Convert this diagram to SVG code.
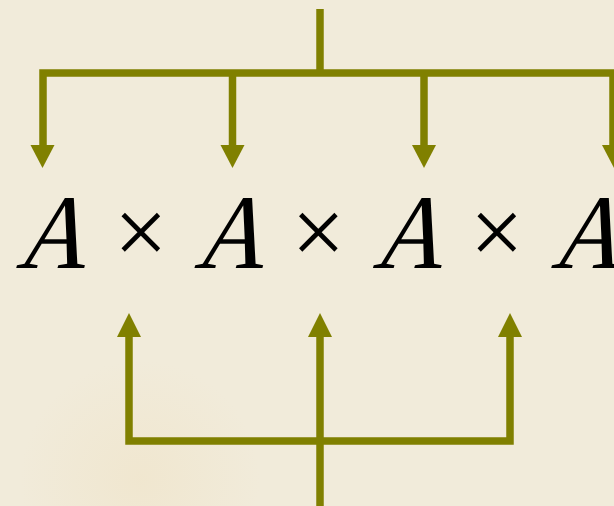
<svg xmlns="http://www.w3.org/2000/svg" xmlns:xlink="http://www.w3.org/1999/xlink" width="614" height="506" viewBox="0 0 614 506">
  <defs>
    <style>
      .ln { fill: none; stroke: #808000; stroke-width: 7.5; stroke-linecap: butt; stroke-linejoin: miter; }
      .hd { fill: #808000; }
      .a { font-family: 'Liberation Serif', serif; font-size: 106px; fill: #000; }
      .x { font-family: 'Liberation Serif', serif; font-size: 95px; fill: #000; text-anchor: middle; }
    </style>
    <polygon id="down" points="-12,0 12,0 0,23"/>
    <polygon id="up" points="-12,0 12,0 0,-24"/>
    <radialGradient id="warm" cx="140" cy="480" r="120" gradientUnits="userSpaceOnUse">
      <stop offset="0" stop-color="#eedcb6" stop-opacity="0.3"/>
      <stop offset="1" stop-color="#eedcb6" stop-opacity="0"/>
    </radialGradient>
  </defs>
  <rect width="614" height="506" fill="#f1ebda"/>
  <rect width="614" height="506" fill="url(#warm)"/>

  <g id="connectors">
    <path class="ln" d="M320 9 V73"/>
    <path class="ln" d="M43 146 V73 H614"/>
    <path class="ln" d="M232.5 73 V146"/>
    <path class="ln" d="M424 73 V146"/>
    <path class="ln" d="M613 73 V146"/>
    <use xlink:href="#down" class="hd" x="42.5" y="145"/>
    <use xlink:href="#down" class="hd" x="232.5" y="145"/>
    <use xlink:href="#down" class="hd" x="424" y="145"/>
    <use xlink:href="#down" class="hd" x="614" y="145"/>

    <path class="ln" d="M129 337 V441 H510 V337"/>
    <path class="ln" d="M320 337 V506"/>
    <use xlink:href="#up" class="hd" x="129" y="337"/>
    <use xlink:href="#up" class="hd" x="320" y="337"/>
    <use xlink:href="#up" class="hd" x="510" y="337"/>
  </g>

  <g id="expression">
    <text class="a" transform="translate(15.3,268.3) skewX(-16) scale(0.91,1)">A</text>
    <text class="x" x="140.7" y="264">×</text>
    <text class="a" transform="translate(193.6,268.3) skewX(-16) scale(0.91,1)">A</text>
    <text class="x" x="318.2" y="264">×</text>
    <text class="a" transform="translate(372.1,268.3) skewX(-16) scale(0.91,1)">A</text>
    <text class="x" x="496.7" y="264">×</text>
    <text class="a" transform="translate(550.3,268.3) skewX(-16) scale(0.91,1)">A</text>
  </g>
</svg>
